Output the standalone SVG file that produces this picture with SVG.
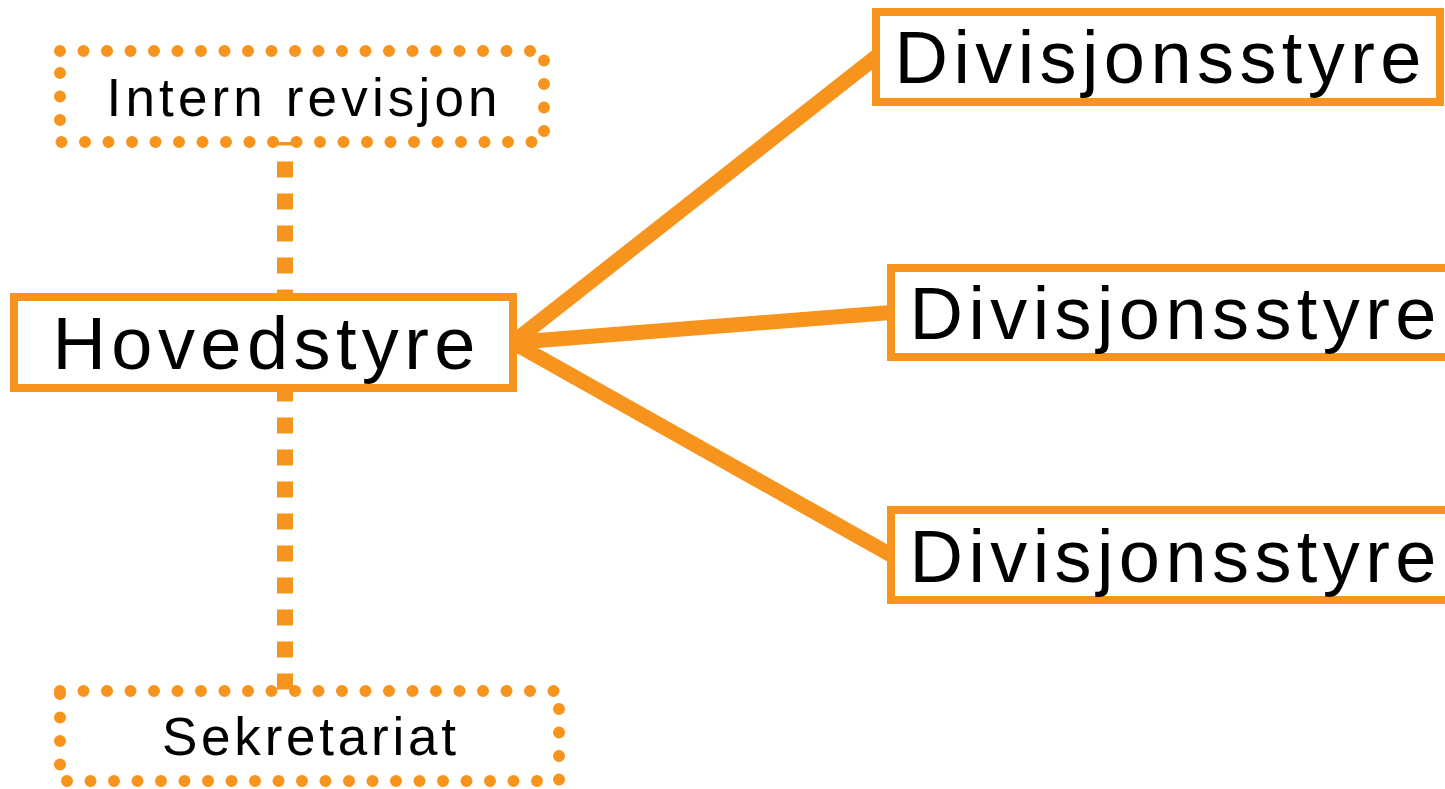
<svg xmlns="http://www.w3.org/2000/svg" width="1445" height="789" viewBox="0 0 1445 789">
<style>
.box{fill:#fff;stroke:#F7941E;stroke-width:8}
.dot{fill:#fff;stroke:#F7941E;stroke-width:12;stroke-linecap:round;stroke-dasharray:0 23.5}
.big{font-family:"Liberation Sans",Arial,sans-serif;font-size:74px;fill:#000;text-anchor:middle}
.small{font-family:"Liberation Sans",Arial,sans-serif;font-size:53px;fill:#000;text-anchor:middle}
.solid{stroke:#F7941E;stroke-width:15;fill:none}
.dash{stroke:#F7941E;stroke-width:16;stroke-dasharray:16 16;fill:none}
</style>
<rect width="1445" height="789" fill="#fff"/>
<g id="connectors">
<path class="dash" d="M285 97.5 V735"/>
<path class="solid" d="M513 342.5 L876 57"/>
<path class="solid" d="M513 342.5 L891 312.5"/>
<path class="solid" d="M513 342.5 L891 555"/>
</g>
<g id="intern-revisjon">
<rect class="dot" x="60" y="51" width="484" height="91"/>
<text class="small" x="302" y="115.5" textLength="391" lengthAdjust="spacing">Intern revisjon</text>
</g>
<g id="hovedstyre">
<rect class="box" x="14" y="297" width="499" height="91"/>
<text class="big" x="264" y="369" textLength="423" lengthAdjust="spacing">Hovedstyre</text>
</g>
<g id="sekretariat">
<rect class="dot" x="60" y="691" width="499" height="90"/>
<text class="small" x="309" y="755" textLength="294" lengthAdjust="spacing">Sekretariat</text>
</g>
<g id="divisjonsstyre-1">
<rect class="box" x="876" y="12" width="564" height="90"/>
<text class="big" x="1158" y="83" textLength="527" lengthAdjust="spacing">Divisjonsstyre</text>
</g>
<g id="divisjonsstyre-2">
<rect class="box" x="891" y="268" width="564" height="89"/>
<text class="big" x="1173" y="339" textLength="527" lengthAdjust="spacing">Divisjonsstyre</text>
</g>
<g id="divisjonsstyre-3">
<rect class="box" x="891" y="510" width="564" height="90"/>
<text class="big" x="1173" y="581.5" textLength="527" lengthAdjust="spacing">Divisjonsstyre</text>
</g>
</svg>
